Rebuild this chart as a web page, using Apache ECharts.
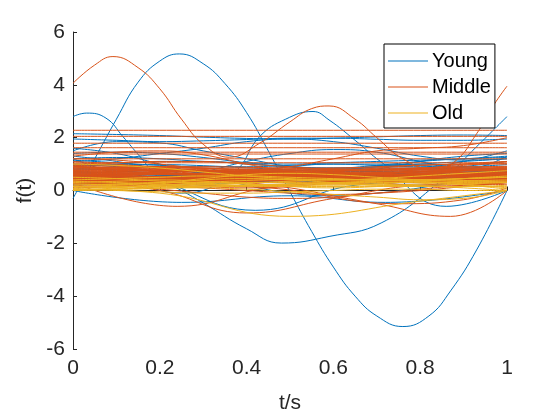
<!DOCTYPE html>
<html>
<head>
<meta charset="utf-8">
<script src="https://cdn.jsdelivr.net/npm/echarts@6/dist/echarts.min.js"></script>
<style>
  html, body { margin: 0; padding: 0; background: #fff; }
  #main { width: 560px; height: 420px; }
</style>
</head>
<body>
<div id="main"></div>
<script>
// sample times for the band curves
var tValues = [0, 0.1, 0.2, 0.3, 0.4, 0.5, 0.6, 0.7, 0.8, 0.9, 1];

// Young: curves with their own [t, f] knots (read at peaks and dips)
var youngKnots = [
  [[0, -0.3], [0.05, 1.2], [0.1, 2.7], [0.15, 4.1], [0.2, 4.9], [0.245, 5.17], [0.3, 4.8], [0.35, 4.05], [0.4, 2.95], [0.45, 1.5], [0.5, -0.05], [0.55, -1.55], [0.6, -2.9], [0.65, -4.0], [0.7, -4.75], [0.76, -5.15], [0.82, -4.75], [0.87, -3.8], [0.93, -2.25], [1, 0.0]],
  [[0, 2.8], [0.031, 2.93], [0.076, 2.74], [0.115, 2.04], [0.154, 1.29], [0.2, 0.45], [0.25, 0.0], [0.3, -0.47], [0.4, -1.45], [0.48, -1.99], [0.59, -1.74], [0.71, -1.23], [0.85, 0.4], [0.93, 1.66], [1, 2.8]],
  [[0, 1.2], [0.12, 0.5], [0.25, -0.1], [0.369, 0.66], [0.43, 2.04], [0.49, 2.7], [0.553, 2.99], [0.59, 2.67], [0.65, 1.9], [0.71, 1.08], [0.86, -0.6], [1, 0.0]],
  [[0, 0.5], [0.15, 0.45], [0.42, -0.75], [0.65, 0.2], [1, 0.5]],
  [[0, 0.0], [0.25, -0.45], [0.5, -0.2], [0.72, -0.45], [1, 0.0]]
];
// Young: band curves sampled at tValues
var youngCurves = [
  [2.15, 2.12, 2.08, 2.02, 1.97, 1.95, 1.98, 2.03, 2.08, 2.1, 2.08],
  [1.95, 1.9, 1.85, 1.88, 1.93, 1.98, 1.98, 1.94, 1.9, 1.9, 1.95],
  [1.1, 1.2, 1.4, 1.6, 1.85, 1.95, 1.85, 1.6, 1.3, 1.15, 1.2],
  [1.5, 1.85, 1.8, 1.5, 1.2, 0.9, 0.7, 0.6, 0.7, 0.9, 1.1],
  [0.4, 0.3, 0.4, 0.7, 1.1, 1.4, 1.55, 1.45, 1.1, 0.8, 1.3],
  [1.3, 1.1, 0.8, 0.5, 0.3, 0.3, 0.5, 0.8, 1.1, 1.3, 1.4],
  [0.8, 0.8, 0.75, 0.7, 0.7, 0.75, 0.8, 0.85, 0.85, 0.8, 0.8],
  [0.3, 0.35, 0.4, 0.45, 0.45, 0.4, 0.35, 0.3, 0.3, 0.35, 0.4],
  [1.0, 0.9, 0.7, 0.5, 0.4, 0.5, 0.7, 0.9, 1.0, 0.9, 0.8],
  [0.2, 0.3, 0.5, 0.7, 0.8, 0.7, 0.5, 0.3, 0.2, 0.3, 0.5],
  [0.55, 0.6, 0.65, 0.6, 0.55, 0.5, 0.55, 0.6, 0.65, 0.6, 0.55],
  [1.6, 1.4, 1.0, 0.6, 0.2, -0.1, -0.2, -0.1, 0.1, 0.4, 0.7],
  [0.9, 1.0, 1.1, 1.1, 1.0, 0.9, 0.85, 0.9, 1.0, 1.1, 1.2],
  [0.45, 0.5, 0.6, 0.55, 0.4, 0.3, 0.35, 0.5, 0.6, 0.55, 0.45],
  [1.2, 1.25, 1.2, 1.1, 1.05, 1.0, 1.05, 1.1, 1.15, 1.2, 1.3],
  [0.7, 0.55, 0.35, 0.2, 0.15, 0.25, 0.45, 0.6, 0.65, 0.55, 0.4],
  [0.6, 0.5, 0.45, 0.5, 0.7, 0.9, 1.0, 0.95, 0.9, 1.1, 1.5],
  [1.4, 1.45, 1.4, 1.25, 1.05, 0.9, 0.85, 0.95, 1.1, 1.2, 1.25],
  [0.65, 0.7, 0.75, 0.75, 0.7, 0.65, 0.6, 0.6, 0.65, 0.7, 0.75],
  [0.35, 0.3, 0.25, 0.25, 0.3, 0.4, 0.5, 0.55, 0.5, 0.4, 0.3],
  [1.15, 1.05, 0.95, 0.9, 0.9, 0.95, 1.0, 1.0, 0.95, 0.85, 0.75],
  [0.85, 0.75, 0.6, 0.45, 0.35, 0.35, 0.45, 0.55, 0.6, 0.6, 0.6],
  [0.5, 0.52, 0.56, 0.6, 0.62, 0.6, 0.56, 0.52, 0.5, 0.5, 0.52],
  [0.72, 0.66, 0.58, 0.52, 0.5, 0.52, 0.58, 0.66, 0.72, 0.74, 0.72],
  [0.25, 0.28, 0.34, 0.4, 0.42, 0.4, 0.34, 0.3, 0.3, 0.34, 0.38],
  [0.95, 0.98, 0.98, 0.94, 0.86, 0.78, 0.72, 0.72, 0.78, 0.88, 0.98]
];

// Middle
var middleKnots = [
  [[0, 4.06], [0.05, 4.75], [0.092, 5.07], [0.15, 4.65], [0.2, 3.85], [0.25, 2.7], [0.3, 1.75], [0.36, 1.26], [0.43, 1.79], [0.5, 2.6], [0.55, 3.1], [0.59, 3.2], [0.65, 2.7], [0.7, 2.0], [0.76, 1.2], [0.83, 0.8], [0.88, 1.1], [0.93, 2.15], [0.97, 3.25], [1, 3.95]],
  [[0, 0.3], [0.24, -0.6], [0.45, 0.1], [0.7, 0.35], [1, 0.3]],
  [[0, 0.6], [0.4, 0.3], [0.7, -0.5], [0.87, -0.98], [1, 0.0]],
  [[0, 0.4], [0.2, 0.0], [0.4, -0.85], [0.6, -0.3], [0.8, 0.2], [1, 0.3]],
  [[0, 0.4], [0.45, 0.1], [0.75, -0.5], [0.9, -0.35], [1, 0.1]]
];
var middleCurves = [
  [2.28, 2.28, 2.28, 2.28, 2.28, 2.28, 2.28, 2.28, 2.28, 2.28, 2.28],
  [2.05, 2.05, 2.05, 2.05, 2.05, 2.05, 2.05, 2.05, 2.05, 2.05, 2.05],
  [1.79, 1.79, 1.79, 1.79, 1.79, 1.79, 1.79, 1.79, 1.79, 1.79, 1.79],
  [1.62, 1.62, 1.62, 1.62, 1.62, 1.62, 1.62, 1.62, 1.62, 1.62, 1.62],
  [1.45, 1.45, 1.45, 1.45, 1.45, 1.45, 1.45, 1.45, 1.45, 1.45, 1.45],
  [1.38, 1.38, 1.38, 1.38, 1.38, 1.38, 1.38, 1.38, 1.38, 1.38, 1.38],
  [1.3, 1.45, 1.5, 1.35, 1.0, 0.7, 0.55, 0.6, 0.8, 1.0, 1.1],
  [0.9, 0.8, 0.7, 0.6, 0.7, 0.9, 1.2, 1.5, 1.6, 1.7, 2.0],
  [0.5, 0.5, 0.5, 0.5, 0.5, 0.5, 0.5, 0.5, 0.5, 0.5, 0.5],
  [0.7, 0.7, 0.65, 0.6, 0.55, 0.55, 0.6, 0.65, 0.7, 0.7, 0.7],
  [0.35, 0.4, 0.45, 0.5, 0.5, 0.45, 0.4, 0.35, 0.35, 0.4, 0.45],
  [0.9, 0.85, 0.8, 0.75, 0.7, 0.7, 0.75, 0.8, 0.85, 0.9, 0.9],
  [0.6, 0.5, 0.35, 0.2, 0.15, 0.2, 0.35, 0.5, 0.55, 0.5, 0.4],
  [0.15, 0.2, 0.3, 0.45, 0.55, 0.55, 0.45, 0.3, 0.2, 0.2, 0.3],
  [1.1, 1.0, 0.85, 0.7, 0.6, 0.6, 0.7, 0.85, 0.95, 1.0, 1.0],
  [0.8, 0.85, 0.9, 0.85, 0.75, 0.6, 0.5, 0.5, 0.6, 0.75, 0.9],
  [0.45, 0.45, 0.45, 0.45, 0.45, 0.45, 0.45, 0.45, 0.45, 0.45, 0.45],
  [0.25, 0.25, 0.2, 0.1, 0.0, -0.1, -0.15, -0.1, 0.0, 0.15, 0.3],
  [1.0, 1.05, 1.1, 1.1, 1.0, 0.9, 0.8, 0.8, 0.85, 0.95, 1.1],
  [0.55, 0.6, 0.7, 0.75, 0.7, 0.6, 0.5, 0.45, 0.5, 0.6, 0.7],
  [0.65, 0.55, 0.45, 0.4, 0.45, 0.55, 0.65, 0.7, 0.65, 0.55, 0.5],
  [0.85, 0.85, 0.85, 0.85, 0.85, 0.85, 0.85, 0.85, 0.85, 0.85, 0.85],
  [0.3, 0.3, 0.3, 0.3, 0.3, 0.3, 0.3, 0.3, 0.3, 0.3, 0.3],
  [1.2, 1.2, 1.2, 1.2, 1.2, 1.2, 1.2, 1.2, 1.2, 1.2, 1.2],
  [0.62, 0.62, 0.62, 0.62, 0.62, 0.62, 0.62, 0.62, 0.62, 0.62, 0.62],
  [0.4, 0.35, 0.25, 0.15, 0.1, 0.15, 0.3, 0.45, 0.55, 0.55, 0.5],
  [1.2, 1.15, 1.0, 0.8, 0.55, 0.35, 0.25, 0.3, 0.45, 0.6, 0.7],
  [0.3, 0.2, 0.05, -0.1, -0.25, -0.3, -0.25, -0.1, 0.05, 0.2, 0.3],
  [0.75, 0.8, 0.8, 0.75, 0.65, 0.55, 0.5, 0.55, 0.65, 0.75, 0.8],
  [1.05, 1.05, 1.05, 1.05, 1.05, 1.05, 1.05, 1.05, 1.05, 1.05, 1.05],
  [0.1, 0.15, 0.25, 0.35, 0.4, 0.4, 0.35, 0.3, 0.3, 0.35, 0.45],
  [0.5, 0.55, 0.6, 0.6, 0.55, 0.45, 0.35, 0.3, 0.35, 0.45, 0.6],
  [0.58, 0.6, 0.63, 0.66, 0.68, 0.68, 0.66, 0.63, 0.6, 0.58, 0.58],
  [0.42, 0.4, 0.38, 0.38, 0.4, 0.43, 0.46, 0.48, 0.48, 0.46, 0.44],
  [0.75, 0.72, 0.68, 0.64, 0.62, 0.62, 0.64, 0.68, 0.72, 0.75, 0.76],
  [0.28, 0.3, 0.34, 0.38, 0.42, 0.44, 0.44, 0.42, 0.38, 0.34, 0.3],
  [0.95, 0.92, 0.88, 0.84, 0.8, 0.78, 0.78, 0.8, 0.84, 0.88, 0.92],
  [0.52, 0.48, 0.45, 0.44, 0.46, 0.5, 0.55, 0.58, 0.58, 0.55, 0.5],
  [0.68, 0.72, 0.76, 0.78, 0.76, 0.72, 0.66, 0.6, 0.56, 0.55, 0.56],
  [0.2, 0.22, 0.26, 0.3, 0.34, 0.36, 0.36, 0.34, 0.3, 0.26, 0.22],
  [0.82, 0.8, 0.76, 0.72, 0.7, 0.7, 0.72, 0.76, 0.8, 0.84, 0.86],
  [0.38, 0.42, 0.48, 0.54, 0.58, 0.58, 0.54, 0.48, 0.42, 0.38, 0.36],
  [0.6, 0.56, 0.52, 0.5, 0.5, 0.52, 0.56, 0.6, 0.64, 0.66, 0.66],
  [0.47, 0.5, 0.53, 0.55, 0.55, 0.53, 0.5, 0.47, 0.45, 0.45, 0.47],
  [0.72, 0.68, 0.62, 0.56, 0.5, 0.46, 0.46, 0.5, 0.56, 0.62, 0.66],
  [0.33, 0.36, 0.4, 0.44, 0.48, 0.5, 0.5, 0.48, 0.44, 0.4, 0.37],
  [0.9, 0.88, 0.84, 0.78, 0.72, 0.68, 0.66, 0.66, 0.7, 0.76, 0.82],
  [0.55, 0.58, 0.62, 0.64, 0.62, 0.58, 0.54, 0.52, 0.52, 0.54, 0.58],
  [1.0, 0.96, 0.9, 0.84, 0.8, 0.8, 0.84, 0.9, 0.96, 1.0, 1.02],
  [0.65, 0.64, 0.63, 0.63, 0.64, 0.66, 0.68, 0.7, 0.7, 0.69, 0.68],
  [0.44, 0.47, 0.5, 0.52, 0.52, 0.5, 0.48, 0.46, 0.46, 0.48, 0.5],
  [0.78, 0.76, 0.74, 0.73, 0.73, 0.74, 0.76, 0.78, 0.79, 0.79, 0.78],
  [0.36, 0.34, 0.33, 0.34, 0.36, 0.38, 0.4, 0.41, 0.41, 0.4, 0.38],
  [0.62, 0.65, 0.7, 0.72, 0.7, 0.66, 0.62, 0.6, 0.6, 0.62, 0.64],
  [0.55, 0.52, 0.5, 0.5, 0.52, 0.55, 0.58, 0.6, 0.6, 0.58, 0.56],
  [0.86, 0.88, 0.9, 0.9, 0.88, 0.84, 0.8, 0.78, 0.78, 0.8, 0.84],
  [0.25, 0.28, 0.32, 0.36, 0.38, 0.38, 0.36, 0.34, 0.32, 0.32, 0.34],
  [0.7, 0.67, 0.64, 0.6, 0.57, 0.56, 0.57, 0.6, 0.64, 0.68, 0.7],
  [0.48, 0.44, 0.4, 0.38, 0.38, 0.4, 0.44, 0.5, 0.55, 0.58, 0.6],
  [0.92, 0.84, 0.74, 0.64, 0.58, 0.56, 0.58, 0.64, 0.72, 0.8, 0.86],
  [0.6, 0.6, 0.6, 0.6, 0.6, 0.6, 0.6, 0.6, 0.6, 0.6, 0.6],
  [0.4, 0.4, 0.4, 0.4, 0.4, 0.4, 0.4, 0.4, 0.4, 0.4, 0.4],
  [0.75, 0.75, 0.75, 0.75, 0.75, 0.75, 0.75, 0.75, 0.75, 0.75, 0.75]
];

// Old
var oldKnots = [
  [[0, 0.05], [0.2, -0.1], [0.5, -0.98], [0.8, -0.4], [1, 0.0]]
];
var oldCurves = [
  [0.0, 0.05, 0.15, 0.25, 0.3, 0.3, 0.25, 0.2, 0.2, 0.25, 0.3],
  [0.1, 0.1, 0.1, 0.15, 0.2, 0.25, 0.3, 0.3, 0.3, 0.3, 0.3],
  [0.3, 0.35, 0.4, 0.35, 0.25, 0.15, 0.1, 0.15, 0.25, 0.35, 0.4],
  [0.05, 0.0, -0.05, -0.1, -0.1, -0.05, 0.0, 0.05, 0.05, 0.0, 0.0],
  [0.5, 0.45, 0.35, 0.25, 0.2, 0.2, 0.25, 0.35, 0.4, 0.45, 0.5],
  [0.2, 0.25, 0.3, 0.3, 0.25, 0.2, 0.2, 0.25, 0.35, 0.45, 0.55],
  [1.0, 0.95, 0.85, 0.7, 0.55, 0.45, 0.4, 0.45, 0.55, 0.65, 0.75],
  [0.15, 0.2, 0.3, 0.45, 0.6, 0.65, 0.6, 0.5, 0.4, 0.35, 0.35],
  [0.0, 0.05, 0.1, 0.1, 0.05, -0.05, -0.15, -0.25, -0.35, -0.3, 0.0],
  [0.4, 0.45, 0.5, 0.55, 0.55, 0.5, 0.45, 0.4, 0.4, 0.45, 0.5],
  [0.15, 0.15, 0.15, 0.15, 0.15, 0.15, 0.15, 0.15, 0.15, 0.15, 0.15],
  [0.0, 0.1, 0.25, 0.4, 0.45, 0.4, 0.3, 0.2, 0.15, 0.15, 0.2],
  [0.25, 0.22, 0.2, 0.22, 0.28, 0.35, 0.4, 0.4, 0.35, 0.25, 0.1],
  [0.08, 0.12, 0.2, 0.3, 0.38, 0.42, 0.42, 0.38, 0.32, 0.22, 0.05],
  [0.35, 0.3, 0.24, 0.2, 0.2, 0.24, 0.3, 0.36, 0.4, 0.38, 0.3],
  [0.02, 0.04, 0.08, 0.14, 0.2, 0.24, 0.26, 0.24, 0.18, 0.1, 0.0]
];

var groupNames = ['Young', 'Middle', 'Old'];
var groupColors = ['#0072BD', '#D95319', '#EDB120'];

var chart = echarts.init(document.getElementById('main'), null, { renderer: 'canvas' });

function lineSeries(g, data) {
  return {
    name: groupNames[g],
    type: 'line',
    smooth: 0.45,
    symbol: 'none',
    silent: true,
    lineStyle: { width: 1, color: groupColors[g] },
    itemStyle: { color: groupColors[g] },
    data: data
  };
}

var series = [];
[[youngKnots, youngCurves], [middleKnots, middleCurves], [oldKnots, oldCurves]].forEach(function (grp, g) {
  grp[1].forEach(function (c) {
    series.push(lineSeries(g, tValues.map(function (t, i) { return [t, c[i]]; })));
  });
  grp[0].forEach(function (k) {
    series.push(lineSeries(g, k));
  });
});

var axisColor = '#262626';
var font = 'Helvetica, Arial, "Liberation Sans", sans-serif';

var option = {
  animation: false,
  backgroundColor: '#fff',
  grid: { left: 73, right: 53, top: 32, bottom: 71 },
  legend: {
    data: groupNames,
    orient: 'vertical',
    left: 384,
    top: 44,
    padding: [7, 4, 5, 4],
    itemGap: 6,
    itemWidth: 40,
    itemHeight: 1.2,
    icon: 'rect',
    backgroundColor: '#fff',
    borderColor: '#000',
    borderWidth: 1,
    borderRadius: 0,
    textStyle: { fontSize: 20, lineHeight: 20, color: '#000', fontFamily: font, padding: [0, 0, 0, -1] }
  },
  xAxis: {
    type: 'value',
    min: 0,
    max: 1,
    interval: 0.2,
    name: 't/s',
    nameLocation: 'middle',
    nameGap: 44,
    nameTextStyle: { fontSize: 21, color: axisColor, fontFamily: font },
    axisLine: { show: true, lineStyle: { color: axisColor, width: 1 } },
    axisTick: { show: true, inside: true, length: 4, lineStyle: { color: axisColor } },
    axisLabel: { fontSize: 21, color: axisColor, fontFamily: font, margin: 9,
      formatter: function (v) { return String(+v.toFixed(1)); } },
    splitLine: { show: false }
  },
  yAxis: {
    type: 'value',
    min: -6,
    max: 6,
    interval: 2,
    name: 'f(t)',
    nameLocation: 'middle',
    nameGap: 32,
    nameRotate: 90,
    nameTextStyle: { fontSize: 21, color: axisColor, fontFamily: font },
    axisLine: { show: true, lineStyle: { color: axisColor, width: 1 } },
    axisTick: { show: true, inside: true, length: 4, lineStyle: { color: axisColor } },
    axisLabel: { fontSize: 21, color: axisColor, fontFamily: font, margin: 8 },
    splitLine: { show: false }
  },
  series: series
};

chart.setOption(option);
</script>
</body>
</html>
